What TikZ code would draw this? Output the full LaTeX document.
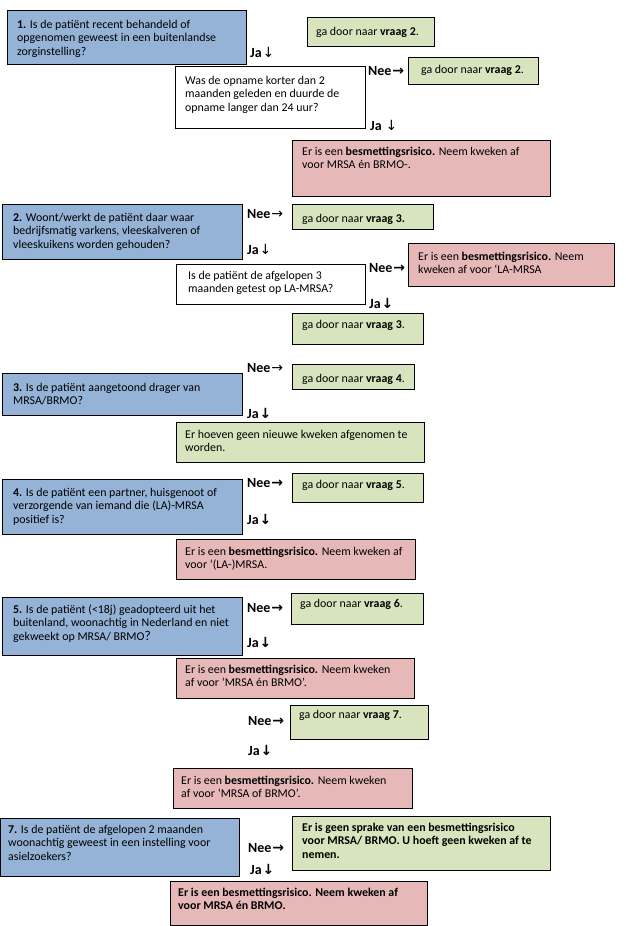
\documentclass[tikz,border=0pt]{standalone}
\usepackage{fontspec}
\setmainfont{Carlito}
\newfontfamily\arrowfont{DejaVu Sans}
\definecolor{qblue}{HTML}{95B3D7}
\definecolor{qgreen}{HTML}{D7E4BD}
\definecolor{qpink}{HTML}{E6B9B8}
\newcommand\thinR{\kern0.8pt{\arrowfont\mdseries →}}
\newcommand\thinD{\kern0.8pt{\arrowfont\mdseries ↓}}
\newcommand\boldR{\kern0.8pt{\arrowfont\bfseries →}}
\newcommand\boldD{\kern0.8pt{\arrowfont\bfseries ↓}}
\newcommand\qbox[6]{\node[#1, minimum width=#5pt-#3pt, minimum height=#6pt-#4pt] (#2) at (#3,#4) {};}
\newcommand\qtext[4]{\node[txt] (#1) at (#2,#3) {\begin{tabular}[t]{@{}l@{}}#4\end{tabular}};}
\newcommand\qlab[4]{\node[lab] (#1) at (#2,#3) {#4};}
\begin{document}
\begin{tikzpicture}[x=1pt,y=-1pt,
  box/.style={draw=black, line width=0.8pt, anchor=north west, inner sep=0pt, outer sep=0pt},
  qb/.style={box, fill=qblue},
  qg/.style={box, fill=qgreen},
  qp/.style={box, fill=qpink},
  qw/.style={box, fill=white},
  txt/.style={anchor=base west, inner sep=0pt, font=\fontsize{11.9}{13.6}\selectfont},
  lab/.style={anchor=base west, inner sep=0pt, font=\fontsize{14}{15}\selectfont\bfseries}]
\useasboundingbox (0,0) rectangle (626,926);
\fill[white] (0,0) rectangle (626,926);

% ---------- Question 1
\qbox{qb}{q1}{7}{10}{246}{64}
\qtext{q1t}{17}{28}{\textbf{1.} Is de patiënt recent behandeld of\\opgenomen geweest in een buitenlandse\\zorginstelling?}
\qbox{qg}{g1}{307}{17}{434}{46}
\qtext{g1t}{316}{35}{ga door naar \textbf{vraag 2}.}
\qlab{ja1}{250}{57}{Ja\thinD}
\qbox{qw}{w1}{175}{66}{365}{128}
\qtext{w1t}{185}{84}{Was de opname korter dan 2\\maanden geleden en duurde de\\opname langer dan 24 uur?}
\qlab{nee1b}{368}{75}{Nee\boldR}
\qbox{qg}{g1b}{408}{57}{538}{84}
\qtext{g1bt}{421}{73}{ga door naar \textbf{vraag 2}.}
\qlab{ja1b}{370}{130}{Ja \thinD}
\qbox{qp}{p1}{292}{140}{550}{196}
\qtext{p1t}{302}{155}{Er is een \textbf{besmettingsrisico.} Neem kweken af\\voor MRSA én BRMO-.}

% ---------- Question 2
\qbox{qb}{q2}{2}{204}{242}{259}
\qtext{q2t}{13}{221}{\textbf{2.} Woont/werkt de patiënt daar waar\\bedrijfsmatig varkens, vleeskalveren of\\vleeskuikens worden gehouden?}
\qlab{nee2}{247}{218}{Nee\thinR}
\qbox{qg}{g2}{292}{204}{433}{229}
\qtext{g2t}{302}{222}{ga door naar \textbf{vraag 3.}}
\qlab{ja2}{247}{254}{Ja\thinD}
\qbox{qp}{p2}{408}{243}{614}{286}
\qtext{p2t}{418}{260}{Er is een \textbf{besmettingsrisico.} Neem\\kweken af voor ‘LA-MRSA}
\qlab{nee2b}{369}{272}{Nee\boldR}
\qbox{qw}{w2}{176}{264}{365}{304}
\qtext{w2t}{188}{279}{Is de patiënt de afgelopen 3\\maanden getest op LA-MRSA?}
\qlab{ja2b}{369}{308}{Ja\boldD}
\qbox{qg}{g2b}{292}{313}{423}{344}
\qtext{g2bt}{302}{328}{ga door naar \textbf{vraag 3}.}

% ---------- Question 3
\qbox{qb}{q3}{2}{373}{242}{415}
\qtext{q3t}{13}{391}{\textbf{3.} Is de patiënt aangetoond drager van\\MRSA/BRMO?}
\qlab{nee3}{247}{372}{Nee\thinR}
\qbox{qg}{g3}{292}{364}{414}{389}
\qtext{g3t}{302}{382}{ga door naar \textbf{vraag 4}.}
\qlab{ja3}{247}{418}{Ja\boldD}
\qbox{qg}{g3b}{176}{422}{424}{462}
\qtext{g3bt}{185}{438}{Er hoeven geen nieuwe kweken afgenomen te\\worden.}

% ---------- Question 4
\qbox{qb}{q4}{2}{479}{242}{534}
\qtext{q4t}{13}{496}{\textbf{4.} Is de patiënt een partner, huisgenoot of\\verzorgende van iemand die (LA)-MRSA\\positief is?}
\qlab{nee4}{247}{487}{Nee\boldR}
\qbox{qg}{g4}{292}{473}{423}{502}
\qtext{g4t}{302}{488}{ga door naar \textbf{vraag 5}.}
\qlab{ja4}{247}{524}{Ja\boldD}
\qbox{qp}{p4}{176}{539}{415}{579}
\qtext{p4t}{185}{555}{Er is een \textbf{besmettingsrisico.} Neem kweken af\\voor ‘(LA-)MRSA.}

% ---------- Question 5
\qbox{qb}{q5}{2}{597}{242}{655}
\qtext{q5t}{13}{613}{\textbf{5.} Is de patiënt (<18j) geadopteerd uit het\\buitenland, woonachtig in Nederland en niet\\gekweekt op MRSA/ BRMO{\fontsize{13.5}{14}\selectfont ?}}
\qlab{nee5}{247}{612}{Nee\boldR}
\qbox{qg}{g5}{291}{593}{423}{624}
\qtext{g5t}{300}{607}{ga door naar \textbf{vraag 6}.}
\qlab{ja5}{247}{647}{Ja\boldD}
\qbox{qp}{p5}{176}{658}{414}{698}
\qtext{p5t}{185}{673}{Er is een \textbf{besmettingsrisico.} Neem kweken\\af voor ‘MRSA én BRMO’.}

% ---------- Question 6 (no question box)
\qlab{nee6}{248}{725}{Nee\boldR}
\qbox{qg}{g6}{290}{705}{428}{739}
\qtext{g6t}{299}{718}{ga door naar \textbf{vraag 7}.}
\qlab{ja6}{248}{755}{Ja\boldD}
\qbox{qp}{p6}{173}{768}{412}{808}
\qtext{p6t}{181}{784}{Er is een \textbf{besmettingsrisico.} Neem kweken\\af voor ‘MRSA of BRMO’.}

% ---------- Question 7
\qbox{qb}{q7}{0}{818}{239}{876}
\qtext{q7t}{8}{833}{\textbf{7.} Is de patiënt de afgelopen 2 maanden\\woonachtig geweest in een instelling voor\\asielzoekers?}
\qlab{nee7}{248}{852}{Nee\boldR}
\qbox{qg}{g7}{292}{816}{550}{870}
\qtext{g7t}{302}{831}{\bfseries Er is geen sprake van een besmettingsrisico\\\bfseries voor MRSA/ BRMO. U hoeft geen kweken af te\\\bfseries nemen.}
\qlab{ja7}{250}{874}{Ja\boldD}
\qbox{qp}{p7}{170}{881}{427}{925}
\qtext{p7t}{178}{896}{\bfseries Er is een besmettingsrisico. Neem kweken af\\\bfseries voor MRSA én BRMO.}
\end{tikzpicture}
\end{document}
